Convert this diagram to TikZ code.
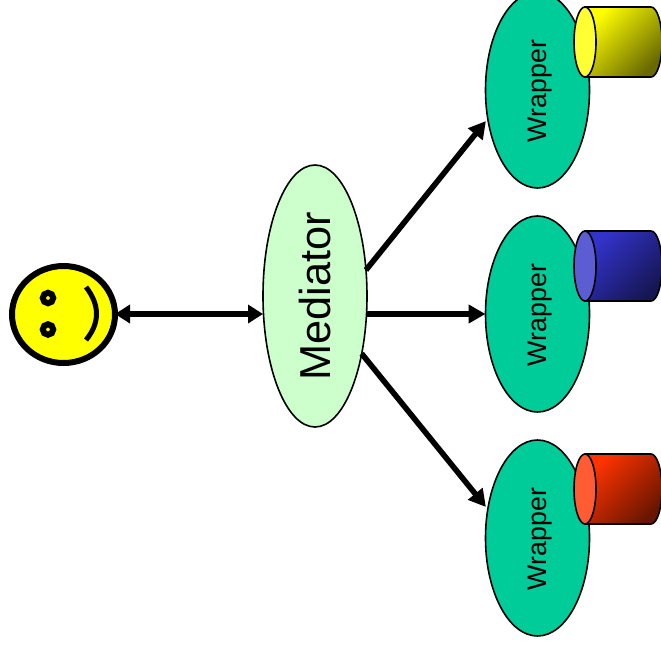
\documentclass[tikz,border=0pt]{standalone}
\usepackage{fontspec}
\setmainfont{Liberation Sans}
\usetikzlibrary{shapes.geometric,arrows.meta}
\definecolor{medfill}{RGB}{204,255,204}
\definecolor{wrapfill}{RGB}{0,204,153}
\definecolor{smile}{RGB}{255,255,0}
\tikzset{
  medshape/.style={ellipse,draw=black,line width=1.6pt,fill=medfill,minimum width=104pt,minimum height=262pt,inner sep=0pt,outer sep=0pt,font=\fontsize{43.3}{43.3}\selectfont},
  wrapshape/.style={ellipse,draw=black,line width=1.6pt,fill=wrapfill,minimum width=104pt,minimum height=196pt,inner sep=0pt,outer sep=0pt,font=\fontsize{26.8}{26.8}\selectfont},
  conn/.style={line width=5.6pt,-{Triangle[length=17pt,width=18pt]}},
  connboth/.style={line width=5.6pt,{Triangle[length=15pt,width=18pt]}-{Triangle[length=15pt,width=18pt]}},
  cylbody/.style={draw=black,line width=1.6pt,line join=round},
  capshape/.style={ellipse,draw=black,line width=1.6pt,minimum width=22pt,minimum height=70pt,inner sep=0pt},
  eyeshape/.style={circle,draw=black,line width=6pt,fill=smile,minimum size=10.5pt,inner sep=0pt,outer sep=0pt},
  faceshape/.style={ellipse,draw=black,line width=6pt,fill=smile,minimum width=103pt,minimum height=97pt,inner sep=0pt,outer sep=0pt}
}
\newcommand{\cylinder}[3]{%
  \shade[cylbody,top color=#2,bottom color=#3,shading=axis,shading angle=45]
    (585,#1-35) -- (651,#1-35) arc[start angle=90,end angle=-90,x radius=11,y radius=-35] -- (585,#1+35) -- cycle;
}
\begin{document}
\begin{tikzpicture}[x=1pt,y=-1pt]
\useasboundingbox (0,0) rectangle (661,651);
\clip (0,0) rectangle (661,651);
\fill[white] (0,0) rectangle (661,651);
\node[faceshape] (face) at (63.5,314.5) {};
\node[eyeshape] (eyeA) at (48,298) {};
\node[eyeshape] (eyeB) at (48,329.5) {};
\draw[line width=5pt] (86,287) .. controls (100,305) and (100,323) .. (86,340);
\node[medshape] (med) at (315,296) {\rotatebox{90}{Mediator}};
\node[wrapshape] (w1) at (537.5,90) {\kern5pt\rotatebox{90}{Wrapper\kern2pt}};
\node[wrapshape] (w2) at (537.5,314) {\kern5pt\rotatebox{90}{Wrapper\kern2pt}};
\node[wrapshape] (w3) at (537.5,538) {\kern5pt\rotatebox{90}{Wrapper\kern2pt}};
\draw[connboth] (face.east |- 0,314) -- (med.west |- 0,314);
\draw[conn,shorten >=3pt] (med.27) -- (w1.210);
\draw[conn] (med.east |- 0,314) -- (w2.west);
\draw[conn,shorten >=3pt] (med.-51) -- (w3.150);
\definecolor{yb}{RGB}{255,255,0}\definecolor{yd}{RGB}{105,105,0}
\definecolor{bb}{RGB}{51,51,204}\definecolor{bd}{RGB}{22,22,85}
\definecolor{rb}{RGB}{255,51,0}\definecolor{rd}{RGB}{105,22,0}
\cylinder{42}{yb}{yd}
\cylinder{266}{bb}{bd}
\cylinder{489}{rb}{rd}
\node[capshape,fill={rgb,255:red,255;green,255;blue,51}] (c1) at (585,42) {};
\node[capshape,fill={rgb,255:red,93;green,93;blue,211}] (c2) at (585,266) {};
\node[capshape,fill={rgb,255:red,255;green,92;blue,51}] (c3) at (585,489) {};
\end{tikzpicture}
\end{document}
